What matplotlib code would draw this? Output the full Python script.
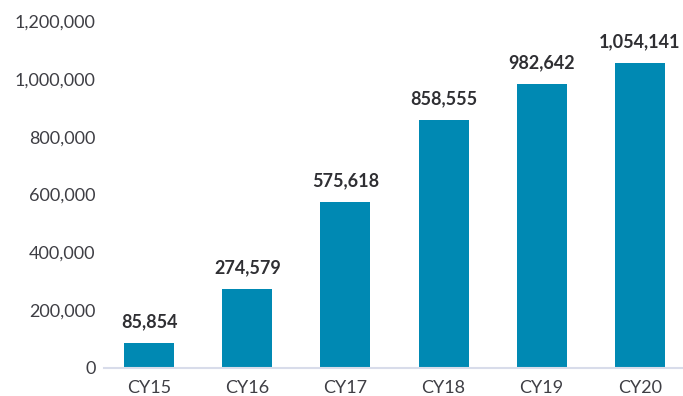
import matplotlib.pyplot as plt
from matplotlib.ticker import FuncFormatter

# annual totals by calendar year
years = ["CY15", "CY16", "CY17", "CY18", "CY19", "CY20"]
totals = [85854, 274579, 575618, 858555, 982642, 1054141]

plt.rcParams['font.family'] = ['Lato', 'DejaVu Sans']

fig = plt.figure(figsize=(6.83, 3.96), dpi=100)
ax = fig.add_axes([104/683, 1 - 368/396, 1 - 104/683, (368 - 21)/396])

x = range(len(years))
bars = ax.bar(x, totals, width=0.51, color="#0089b3", zorder=2)

for xi, v in zip(x, totals):
    ax.annotate(f"{v:,}", (xi, v), xytext=(0, 9), textcoords="offset points",
                ha="center", va="bottom", fontsize=13, fontweight="bold",
                color="#2f2f33")

ax.set_xlim(-0.46, 5.44)
ax.set_ylim(0, 1200000)
ax.set_yticks(range(0, 1200001, 200000))
ax.yaxis.set_major_formatter(FuncFormatter(lambda v, p: f"{int(v):,}"))
ax.set_xticks(list(x))
ax.set_xticklabels(years)

for s in ["top", "right", "left"]:
    ax.spines[s].set_visible(False)
ax.spines["bottom"].set_color("#d8dcea")
ax.spines["bottom"].set_linewidth(1.5)
ax.tick_params(axis="both", length=0, labelsize=13, colors="#3e3e44")
ax.tick_params(axis="x", pad=8.5)
ax.tick_params(axis="y", pad=6)

fig.savefig("out.png", dpi=100)
